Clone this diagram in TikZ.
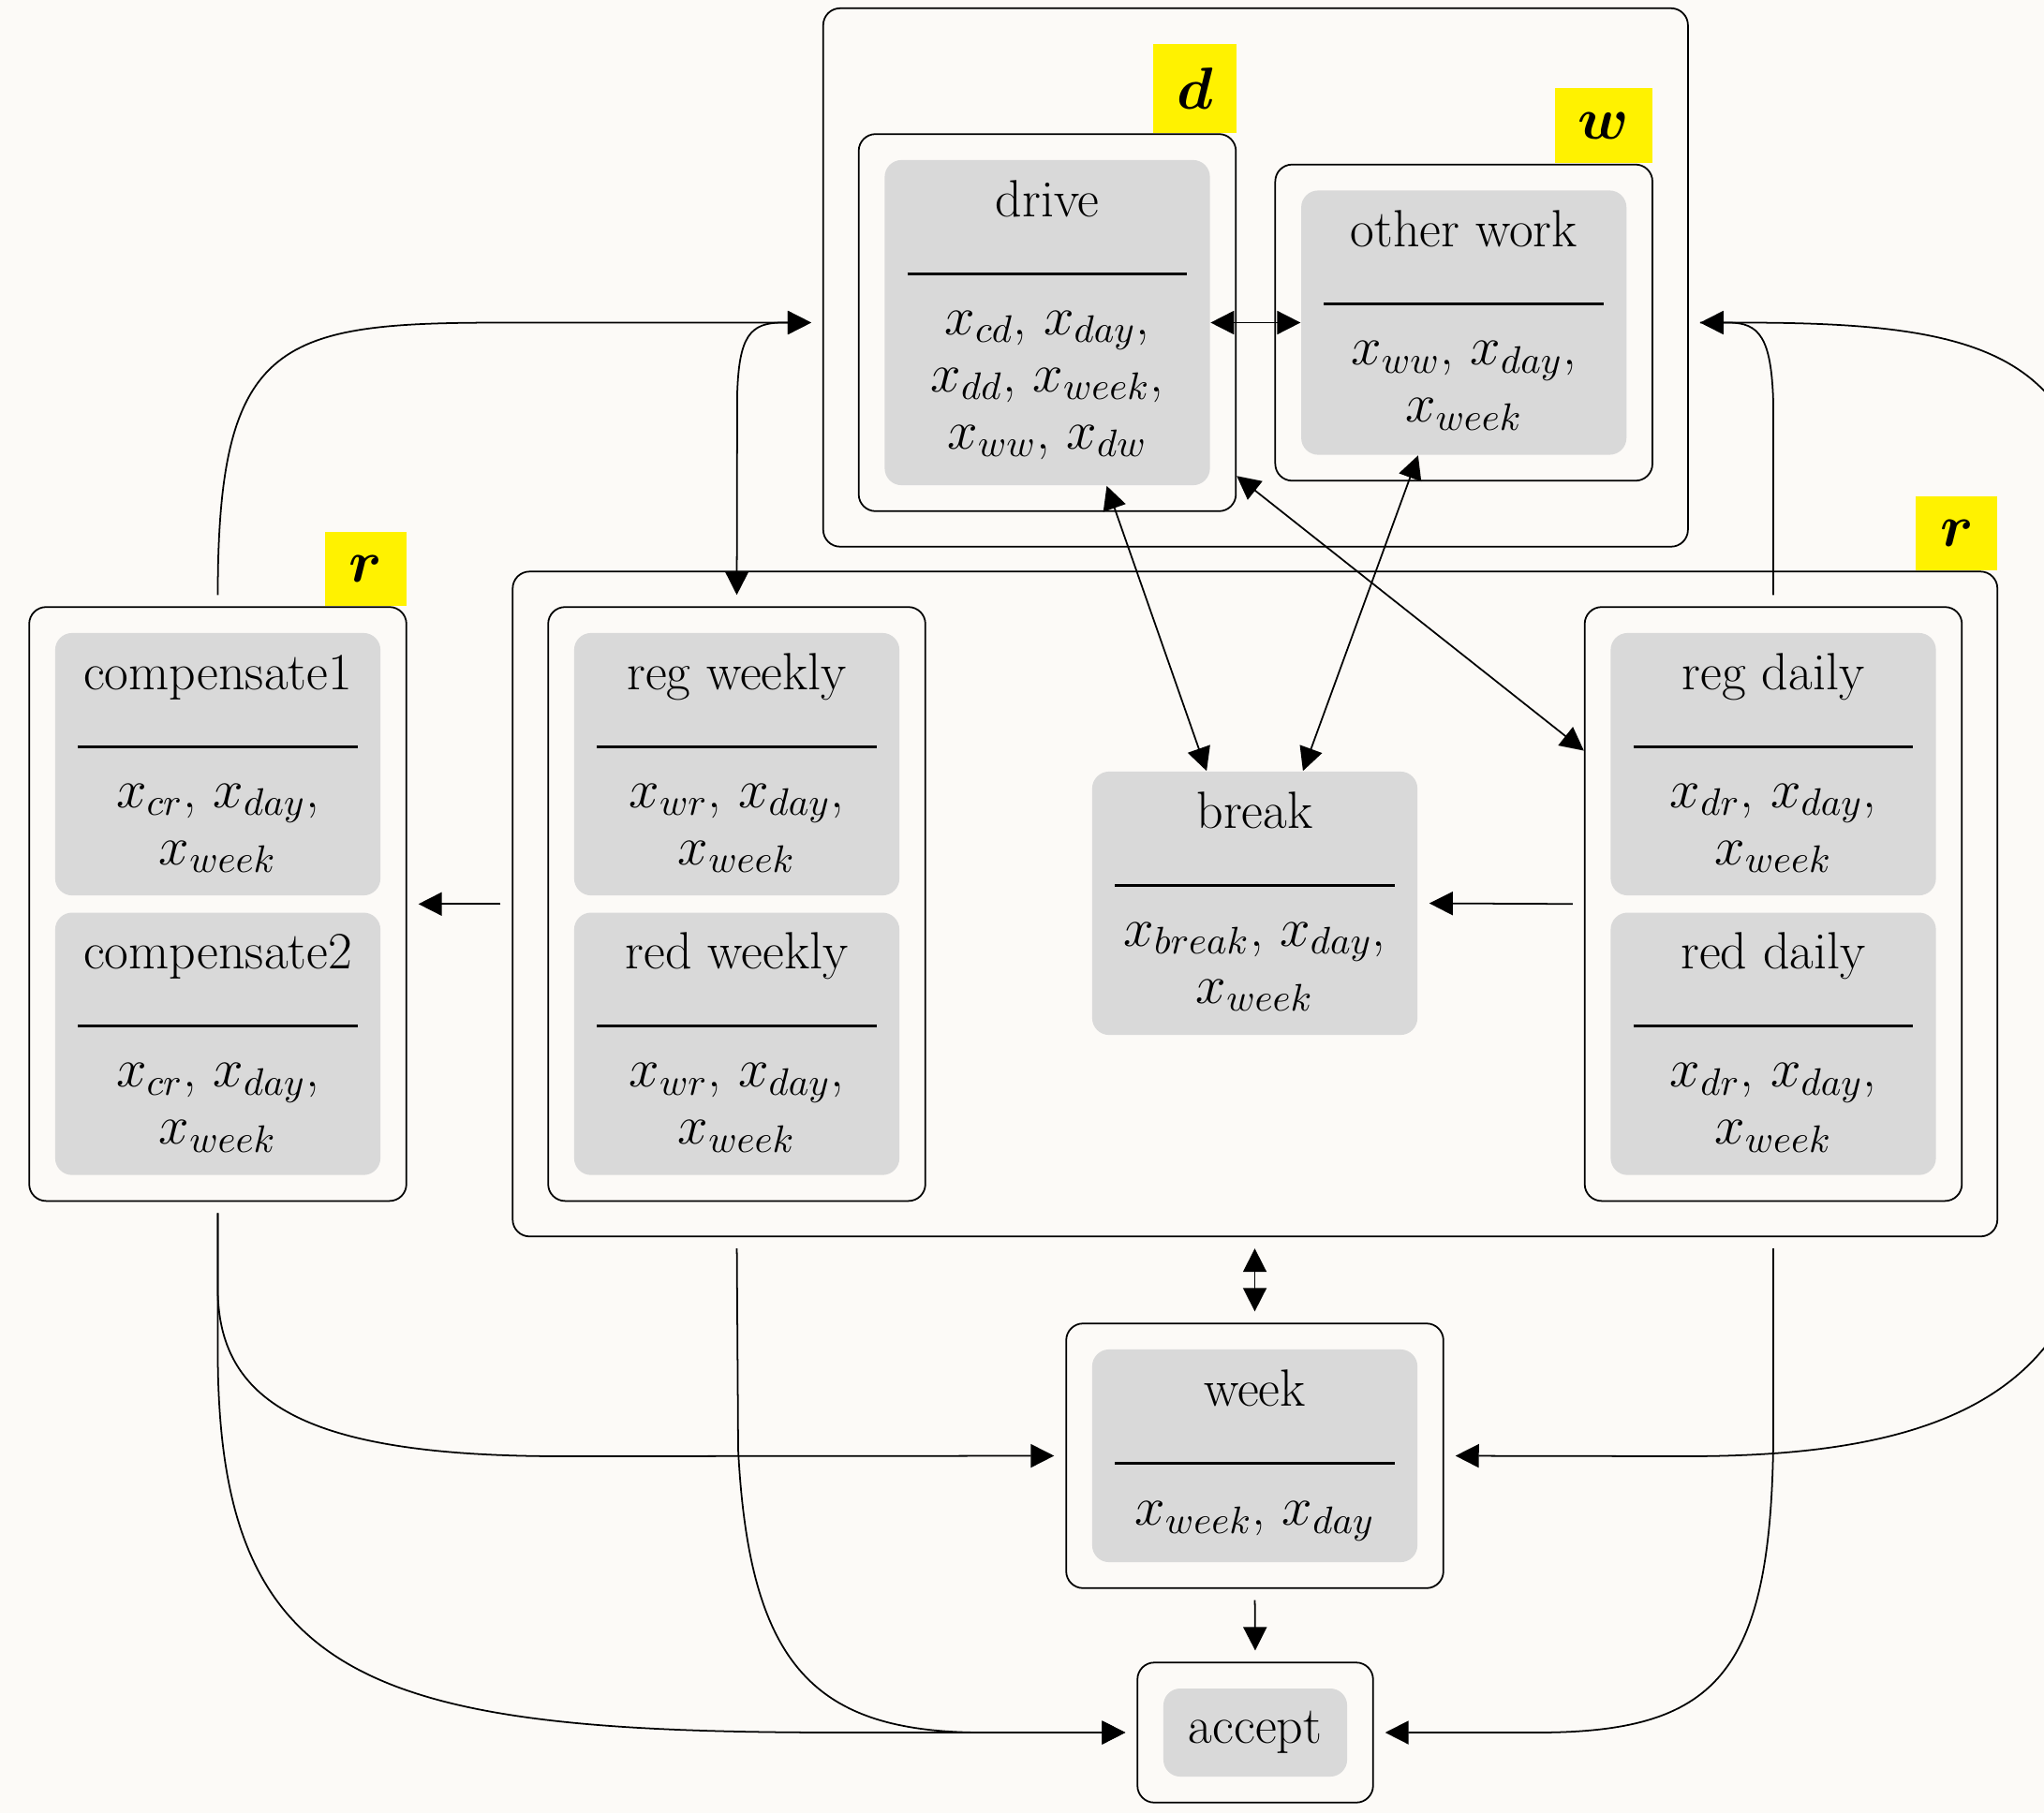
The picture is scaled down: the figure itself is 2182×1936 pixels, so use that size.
\RequirePackage{fix-cm}
\documentclass[tikz,border=0pt]{standalone}
\usepackage{bm}
\usetikzlibrary{positioning}
\usetikzlibrary{fit}
\usetikzlibrary{calc}
\usetikzlibrary{arrows.meta}

\definecolor{bgcol}{HTML}{FCFAF7}
\definecolor{recgray}{HTML}{D9D9D9}
\definecolor{tagyellow}{HTML}{FFF200}

\begin{document}
\begin{tikzpicture} [
  x=0.01cm, y=-0.01cm,
  every node/.style={font=\fontsize{15.9}{18}\selectfont},
  rec/.style={fill=recgray, rounded corners=0.18cm, minimum width=3.47cm, inner sep=0},
  box/.style={draw, rounded corners=0.18cm, line width=0.5pt, inner sep=0.27cm},
  cluster/.style={draw, rounded corners=0.18cm, line width=0.5pt, inner sep=0.37cm},
  tag/.style={fill=tagyellow, inner sep=0, anchor=south east, font=\fontsize{18}{20}\selectfont},
  ttl/.style={anchor=base, inner sep=0},
  mth/.style={anchor=base, inner sep=0, font=\fontsize{16.6}{18}\selectfont},
  sep/.style={line width=0.8pt},
  link/.style={line width=0.5pt, >={Triangle[length=0.25cm, width=0.25cm]}},
  gap/.style={shorten <=0.12cm, shorten >=0.12cm}
  ]
  \useasboundingbox (0,0) rectangle (2182,1936);
  \fill [bgcol] (0,0) rectangle (2182,1936);
  \clip (0,0) rectangle (2182,1936);

  % drive / other work
  \node [rec, minimum height=3.47cm] (drv) at (1118,344.5) {};
  \node [ttl] (drvt) at ($(drv.north)+(0,61)$) {drive};
  \draw [sep] ($(drv.north west)+(25,122)$) -- ($(drv.north east)+(-25,122)$);
  \node [mth] (drva) at ($(drv.north)+(0,187)$) {$x_{cd}$, $x_{day}$,};
  \node [mth] (drvb) at ($(drv.north)+(0,248)$) {$x_{dd}$, $x_{week}$,};
  \node [mth] (drvc) at ($(drv.north)+(0,309)$) {$x_{ww}$, $x_{dw}$};
  \node [box, fit=(drv)] (drvo) {};
  \node [tag, minimum width=0.88cm, minimum height=0.95cm] (dtag) at (drvo.north east) {$\bm{d}$};

  \node [rec, minimum height=2.82cm, right=0.96cm of drv] (oth) {};
  \node [ttl] (otht) at ($(oth.north)+(0,61)$) {other work};
  \draw [sep] ($(oth.north west)+(25,122)$) -- ($(oth.north east)+(-25,122)$);
  \node [mth] (otha) at ($(oth.north)+(0,187)$) {$x_{ww}$, $x_{day}$,};
  \node [mth] (othb) at ($(oth.north)+(0,248)$) {$x_{week}$};
  \node [box, fit=(oth)] (otho) {};
  \node [tag, minimum width=1.04cm, minimum height=0.80cm] (wtag) at (otho.north east) {$\bm{w}$};

  \node [cluster, fit=(dtag)(drvo)(otho)] (topc) {};

  % compensate
  \node [rec, minimum height=2.80cm] (cmp1) at (232.5,816) {};
  \node [ttl] (cmp1t) at ($(cmp1.north)+(0,61)$) {compensate1};
  \draw [sep] ($(cmp1.north west)+(25,122)$) -- ($(cmp1.north east)+(-25,122)$);
  \node [mth] (cmp1a) at ($(cmp1.north)+(0,187)$) {$x_{cr}$, $x_{day}$,};
  \node [mth] (cmp1b) at ($(cmp1.north)+(0,248)$) {$x_{week}$};

  \node [rec, minimum height=2.80cm, below=0.17cm of cmp1] (cmp2) {};
  \node [ttl] (cmp2t) at ($(cmp2.north)+(0,61)$) {compensate2};
  \draw [sep] ($(cmp2.north west)+(25,122)$) -- ($(cmp2.north east)+(-25,122)$);
  \node [mth] (cmp2a) at ($(cmp2.north)+(0,187)$) {$x_{cr}$, $x_{day}$,};
  \node [mth] (cmp2b) at ($(cmp2.north)+(0,248)$) {$x_{week}$};
  \node [box, fit=(cmp1)(cmp2)] (cmpo) {};
  \node [tag, minimum width=0.87cm, minimum height=0.79cm] (rtagl) at (cmpo.north east) {$\bm{r}$};

  % weekly
  \node [rec, minimum height=2.80cm] (regw) at (786.5,816) {};
  \node [ttl] (regwt) at ($(regw.north)+(0,61)$) {reg weekly};
  \draw [sep] ($(regw.north west)+(25,122)$) -- ($(regw.north east)+(-25,122)$);
  \node [mth] (regwa) at ($(regw.north)+(0,187)$) {$x_{wr}$, $x_{day}$,};
  \node [mth] (regwb) at ($(regw.north)+(0,248)$) {$x_{week}$};

  \node [rec, minimum height=2.80cm, below=0.17cm of regw] (redw) {};
  \node [ttl] (redwt) at ($(redw.north)+(0,61)$) {red weekly};
  \draw [sep] ($(redw.north west)+(25,122)$) -- ($(redw.north east)+(-25,122)$);
  \node [mth] (redwa) at ($(redw.north)+(0,187)$) {$x_{wr}$, $x_{day}$,};
  \node [mth] (redwb) at ($(redw.north)+(0,248)$) {$x_{week}$};
  \node [box, fit=(regw)(redw)] (wkly) {};

  % daily
  \node [rec, minimum height=2.80cm] (regd) at (1893,816) {};
  \node [ttl] (regdt) at ($(regd.north)+(0,61)$) {reg daily};
  \draw [sep] ($(regd.north west)+(25,122)$) -- ($(regd.north east)+(-25,122)$);
  \node [mth] (regda) at ($(regd.north)+(0,187)$) {$x_{dr}$, $x_{day}$,};
  \node [mth] (regdb) at ($(regd.north)+(0,248)$) {$x_{week}$};

  \node [rec, minimum height=2.80cm, below=0.17cm of regd] (redd) {};
  \node [ttl] (reddt) at ($(redd.north)+(0,61)$) {red daily};
  \draw [sep] ($(redd.north west)+(25,122)$) -- ($(redd.north east)+(-25,122)$);
  \node [mth] (redda) at ($(redd.north)+(0,187)$) {$x_{dr}$, $x_{day}$,};
  \node [mth] (reddb) at ($(redd.north)+(0,248)$) {$x_{week}$};
  \node [box, fit=(regd)(redd)] (dly) {};

  % break
  \node [rec, minimum height=2.81cm] (brk) at (1339.5,964.5) {};
  \node [ttl] (brkt) at ($(brk.north)+(0,61)$) {break};
  \draw [sep] ($(brk.north west)+(25,122)$) -- ($(brk.north east)+(-25,122)$);
  \node [mth] (brka) at ($(brk.north)+(0,187)$) {$x_{break}$, $x_{day}$,};
  \node [mth] (brkb) at ($(brk.north)+(0,248)$) {$x_{week}$};

  \node [cluster, fit=(wkly)(dly)] (midc) {};
  \node [tag, minimum width=0.87cm, minimum height=0.79cm] (rtagr) at (midc.north east) {$\bm{r}$};

  % week / accept
  \node [rec, minimum height=2.27cm] (wk) at (1339.5,1554.5) {};
  \node [ttl] (wkt) at ($(wk.north)+(0,61)$) {week};
  \draw [sep] ($(wk.north west)+(25,122)$) -- ($(wk.north east)+(-25,122)$);
  \node [mth] (wka) at ($(wk.north)+(0,188)$) {$x_{week}$, $x_{day}$};
  \node [box, fit=(wk)] (wko) {};

  \node [rec, minimum width=1.96cm, minimum height=0.94cm] (acc) at (1340,1850) {accept};
  \node [box, fit=(acc)] (acco) {};

  % straight links
  \draw [link, <->] (drv.east) -- (oth.west);
  \draw [link, <->] (drv.-70.3) -- (brk.110);
  \draw [link, <->] (oth.-109.5) -- (brk.70);
  \draw [link, <->] (drvo.-39) -- (dly.141.2);
  \draw [link, ->, gap] (dly.west) -- (brk.east);
  \draw [link, ->, gap] (midc.west) -- (cmpo.east);
  \draw [link, <->, gap] (midc.south -| wko.north) -- (wko.north);
  \draw [link, ->, gap] (wko.south) -- (acco.north);

  % links to the top cluster
  \draw [link, ->, gap] (cmpo.north) .. controls (232.5,360) and (300,344.5) .. (540,344.5) -- (topc.west |- drv);
  \draw [link, <->, gap] (wkly.north) -- (787,420) .. controls (789,360) and (800,344.5) .. (835,344.5) -- (topc.west |- drv);
  \draw [link, ->, gap] (dly.north) -- (1893,430) .. controls (1891,360) and (1878,344.5) .. (1845,344.5) -- (topc.east |- drv);
  \draw [link, ->, gap] (topc.east |- drv) -- (1860,344.5) .. controls (2130,344.5) and (2240,380) .. (2240,620)
    -- (2240,1250) .. controls (2240,1500) and (2050,1555) .. (1800,1555) -- (wko.east);

  % links to week and accept
  \draw [link, ->, gap] (cmpo.south) -- (232.5,1380) .. controls (235,1500) and (330,1555) .. (600,1555) -- (wko.west);
  \draw [link, ->, gap] (cmpo.south) -- (232.5,1450) .. controls (235,1800) and (400,1850) .. (900,1850) -- (acco.west);
  \draw [link, ->, gap] (wkly |- midc.south) -- (788,1548) .. controls (800,1780) and (870,1850) .. (1050,1850) -- (acco.west);
  \draw [link, ->, gap] (dly |- midc.south) -- (1893,1540) .. controls (1890,1790) and (1830,1850) .. (1640,1850) -- (acco.east);
\end{tikzpicture}
\end{document}
